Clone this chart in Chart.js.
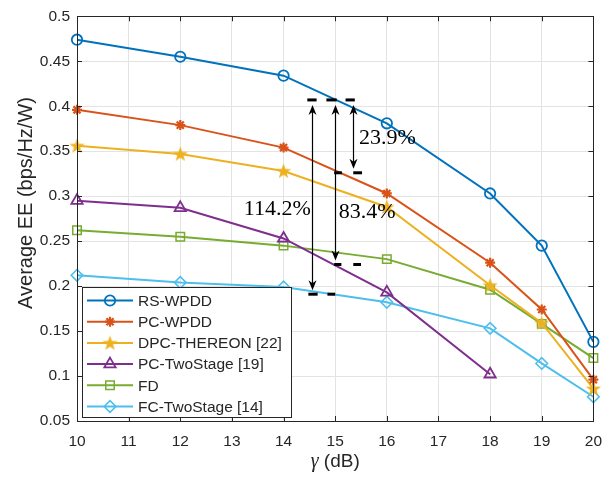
<!DOCTYPE html>
<html>
<head>
<meta charset="utf-8">
<script src="https://cdn.jsdelivr.net/npm/chart.js@4"></script>
<style>
  html, body { margin: 0; padding: 0; background: #fff; }
  #wrap { width: 613px; height: 477px; }
</style>
</head>
<body>
<div id="wrap"><canvas id="eeChart" width="613" height="477"></canvas></div>
<script>
const gammaDb = [10, 12, 14, 16, 18, 19, 20];
const rsWpdd = [0.474, 0.455, 0.434, 0.381, 0.303, 0.245, 0.138];
const pcWpdd = [0.396, 0.379, 0.354, 0.303, 0.226, 0.174, 0.096];
const dpcThereon = [0.356, 0.347, 0.328, 0.288, 0.201, 0.159, 0.086];
const pcTwoStage = [0.295, 0.287, 0.253, 0.193, 0.102];
const fdValues = [0.262, 0.255, 0.245, 0.230, 0.196, 0.158, 0.120];
const fcTwoStage = [0.212, 0.204, 0.199, 0.182, 0.153, 0.114, 0.077];

const seriesNames = ['RS-WPDD', 'PC-WPDD', 'DPC-THEREON [22]', 'PC-TwoStage [19]', 'FD', 'FC-TwoStage [14]'];

const xTicks = [10, 11, 12, 13, 14, 15, 16, 17, 18, 19, 20];
const yTicks = [0.05, 0.1, 0.15, 0.2, 0.25, 0.3, 0.35, 0.4, 0.45, 0.5];
const yTickLabels = ['0.05', '0.1', '0.15', '0.2', '0.25', '0.3', '0.35', '0.4', '0.45', '0.5'];

// anotações (setas de ganho)
const arrowX = [14.56, 15.0, 15.35];
const arrowTop = 0.407;
const arrowBottom = [0.191, 0.224, 0.326];
const gainLabels = ['114.2%', '83.4%', '23.9%'];
const gainLabelX = [13.88, 15.62, 16.01];
const gainLabelY = [0.286, 0.282, 0.364];
const topDashes = [[14.46, 14.64], [14.83, 15.03], [15.20, 15.38]];
const bottomDashes = [
  [[14.48, 14.66], [14.85, 15.0]],
  [[14.98, 15.12], [15.35, 15.5]],
  [[14.98, 15.13], [15.35, 15.52]]
];

const AXIS = '#262626';
const SANS = '"Liberation Sans", Arial, sans-serif';
const SERIF = '"Liberation Serif", "DejaVu Serif", serif';

// Marcador pentagrama (estrela de 5 pontas preenchida)
function makePentagram(color, size) {
  const c = document.createElement('canvas');
  c.width = size; c.height = size;
  const g = c.getContext('2d');
  const cx = size / 2, cy = size / 2 + 0.6;
  const R = size / 2 - 0.5, r = R * 0.4;
  g.beginPath();
  for (let i = 0; i < 10; i++) {
    const a = -Math.PI / 2 + i * Math.PI / 5;
    const rad = i % 2 ? r : R;
    const px = cx + rad * Math.cos(a), py = cy + rad * Math.sin(a);
    if (i === 0) g.moveTo(px, py); else g.lineTo(px, py);
  }
  g.closePath();
  g.fillStyle = color;
  g.fill();
  return c;
}

function toPoints(values) {
  return values.map((v, i) => ({ x: gammaDb[i], y: v }));
}

const colors = ['#0072BD', '#D95319', '#EDB120', '#7E2F8E', '#77AC30', '#4DBEEE'];
const pentagram = makePentagram(colors[2], 17);

const styles = [
  { pointStyle: 'circle', pointRadius: 5.2, pointBorderWidth: 1.8 },
  { pointStyle: 'star', pointRadius: 5, pointBorderWidth: 2.2 },
  { pointStyle: pentagram, pointRadius: 8, pointBorderWidth: 1 },
  { pointStyle: 'triangle', pointRadius: 6.5, pointBorderWidth: 1.8 },
  { pointStyle: 'rect', pointRadius: 6, pointBorderWidth: 1.5 },
  { pointStyle: 'rectRot', pointRadius: 5.8, pointBorderWidth: 1.6 }
];

const allSeries = [rsWpdd, pcWpdd, dpcThereon, pcTwoStage, fdValues, fcTwoStage];

const datasets = allSeries.map((vals, i) => ({
  label: seriesNames[i],
  data: toPoints(vals),
  borderColor: colors[i],
  backgroundColor: 'rgba(255,255,255,0)',
  pointBackgroundColor: 'rgba(255,255,255,0)',
  pointBorderColor: colors[i],
  borderWidth: 2,
  tension: 0,
  clip: false,
  ...styles[i]
}));

// Plugin: moldura, ticks internos, anotações, legenda e títulos
const decorPlugin = {
  id: 'decor',
  afterDatasetsDraw(chart) {
    const { ctx, chartArea: a, scales: { x, y } } = chart;
    ctx.save();

    // setas e tracejados
    ctx.strokeStyle = '#000';
    ctx.fillStyle = '#000';
    const yTop = y.getPixelForValue(arrowTop);
    ctx.lineWidth = 3;
    topDashes.forEach(d => {
      ctx.beginPath();
      ctx.moveTo(x.getPixelForValue(d[0]), yTop);
      ctx.lineTo(x.getPixelForValue(d[1]), yTop);
      ctx.stroke();
    });
    bottomDashes.forEach((set, k) => {
      const yb = y.getPixelForValue(arrowBottom[k]);
      set.forEach(d => {
        ctx.beginPath();
        ctx.moveTo(x.getPixelForValue(d[0]), yb);
        ctx.lineTo(x.getPixelForValue(d[1]), yb);
        ctx.stroke();
      });
    });

    function head(px, py, dir) {
      ctx.beginPath();
      ctx.moveTo(px - 4, py + dir * 10);
      ctx.lineTo(px, py);
      ctx.lineTo(px + 4, py + dir * 10);
      ctx.lineTo(px, py + dir * 7);
      ctx.closePath();
      ctx.fill();
    }
    ctx.lineWidth = 1.2;
    arrowX.forEach((ax, k) => {
      const px = Math.round(x.getPixelForValue(ax)) + 0.5;
      const y1 = yTop + 5;
      const y2 = y.getPixelForValue(arrowBottom[k]) - 4;
      ctx.beginPath();
      ctx.moveTo(px, y1 + 4);
      ctx.lineTo(px, y2 - 4);
      ctx.stroke();
      head(px, y1, 1);
      head(px, y2, -1);
    });

    ctx.font = '22px ' + SERIF;
    ctx.textAlign = 'center';
    ctx.textBaseline = 'middle';
    gainLabels.forEach((t, k) => {
      ctx.fillText(t, x.getPixelForValue(gainLabelX[k]), y.getPixelForValue(gainLabelY[k]));
    });

    // moldura e ticks internos
    ctx.strokeStyle = AXIS;
    ctx.lineWidth = 1;
    ctx.strokeRect(Math.round(a.left) + 0.5, Math.round(a.top) + 0.5,
      Math.round(a.right - a.left), Math.round(a.bottom - a.top));
    ctx.beginPath();
    xTicks.forEach(t => {
      const px = Math.round(x.getPixelForValue(t)) + 0.5;
      ctx.moveTo(px, a.bottom); ctx.lineTo(px, a.bottom - 5);
      ctx.moveTo(px, a.top); ctx.lineTo(px, a.top + 5);
    });
    yTicks.forEach(t => {
      const py = Math.round(y.getPixelForValue(t)) + 0.5;
      ctx.moveTo(a.left, py); ctx.lineTo(a.left + 5, py);
      ctx.moveTo(a.right, py); ctx.lineTo(a.right - 5, py);
    });
    ctx.stroke();

    // legenda
    const lx = 82, ly = 287, lw = 209, lh = 130, row = 21.2;
    ctx.fillStyle = '#fff';
    ctx.fillRect(lx, ly, lw, lh);
    ctx.strokeStyle = AXIS;
    ctx.lineWidth = 1;
    ctx.strokeRect(lx + 0.5, ly + 0.5, lw, lh);
    ctx.font = '15.5px ' + SANS;
    ctx.textAlign = 'left';
    ctx.textBaseline = 'middle';
    chart.data.datasets.forEach((ds, i) => {
      const cy = ly + 13.5 + i * row;
      ctx.strokeStyle = ds.borderColor;
      ctx.lineWidth = 2;
      ctx.beginPath();
      ctx.moveTo(87, cy); ctx.lineTo(133, cy);
      ctx.stroke();
      // marcador sem preenchimento, como no gráfico
      ctx.fillStyle = 'rgba(255,255,255,0)';
      ctx.strokeStyle = ds.borderColor;
      ctx.lineWidth = ds.pointBorderWidth;
      Chart.helpers.drawPoint(ctx, {
        pointStyle: ds.pointStyle,
        radius: ds.pointRadius,
        rotation: 0,
        borderWidth: ds.pointBorderWidth
      }, 110, cy);
      ctx.fillStyle = AXIS;
      ctx.fillText(ds.label, 138, cy + 1);
    });

    // títulos dos eixos
    ctx.fillStyle = AXIS;
    ctx.save();
    ctx.translate(32, 203);
    ctx.rotate(-Math.PI / 2);
    ctx.font = '20px ' + SANS;
    ctx.textAlign = 'center';
    ctx.textBaseline = 'alphabetic';
    ctx.fillText('Average EE (bps/Hz/W)', 0, 0);
    ctx.restore();

    const gTxt = 'γ', uTxt = ' (dB)';
    ctx.font = 'italic 20px ' + SERIF;
    const gW = ctx.measureText(gTxt).width;
    ctx.font = '19px ' + SANS;
    const uW = ctx.measureText(uTxt).width;
    const startX = (a.left + a.right) / 2 - (gW + uW) / 2;
    ctx.textAlign = 'left';
    ctx.textBaseline = 'alphabetic';
    ctx.font = 'italic 20px ' + SERIF;
    ctx.fillText(gTxt, startX, 467);
    ctx.font = '19px ' + SANS;
    ctx.fillText(uTxt, startX + gW, 467);

    ctx.restore();
  }
};

const ctx = document.getElementById('eeChart').getContext('2d');
window.eeChart = new Chart(ctx, {
  type: 'line',
  data: { datasets },
  options: {
    responsive: false,
    animation: false,
    layout: { padding: { top: 12, right: 16, left: 0, bottom: 0 } },
    plugins: {
      legend: { display: false },
      tooltip: { enabled: false }
    },
    scales: {
      x: {
        type: 'linear',
        min: 10,
        max: 20,
        afterBuildTicks: s => { s.ticks = xTicks.map(v => ({ value: v })); },
        afterFit: s => { s.height = 56; },
        grid: { color: '#e3e3e3', drawTicks: false },
        border: { display: false },
        ticks: {
          color: AXIS,
          font: { family: SANS, size: 15.5 },
          padding: 11,
          maxRotation: 0
        }
      },
      y: {
        type: 'linear',
        min: 0.05,
        max: 0.5,
        afterBuildTicks: s => { s.ticks = yTicks.map(v => ({ value: v })); },
        afterFit: s => { s.width = 77; },
        grid: { color: '#e3e3e3', drawTicks: false },
        border: { display: false },
        ticks: {
          color: AXIS,
          font: { family: SANS, size: 15.5 },
          padding: 7,
          callback: (v, i) => yTickLabels[i]
        }
      }
    }
  },
  plugins: [decorPlugin]
});
</script>
</body>
</html>
